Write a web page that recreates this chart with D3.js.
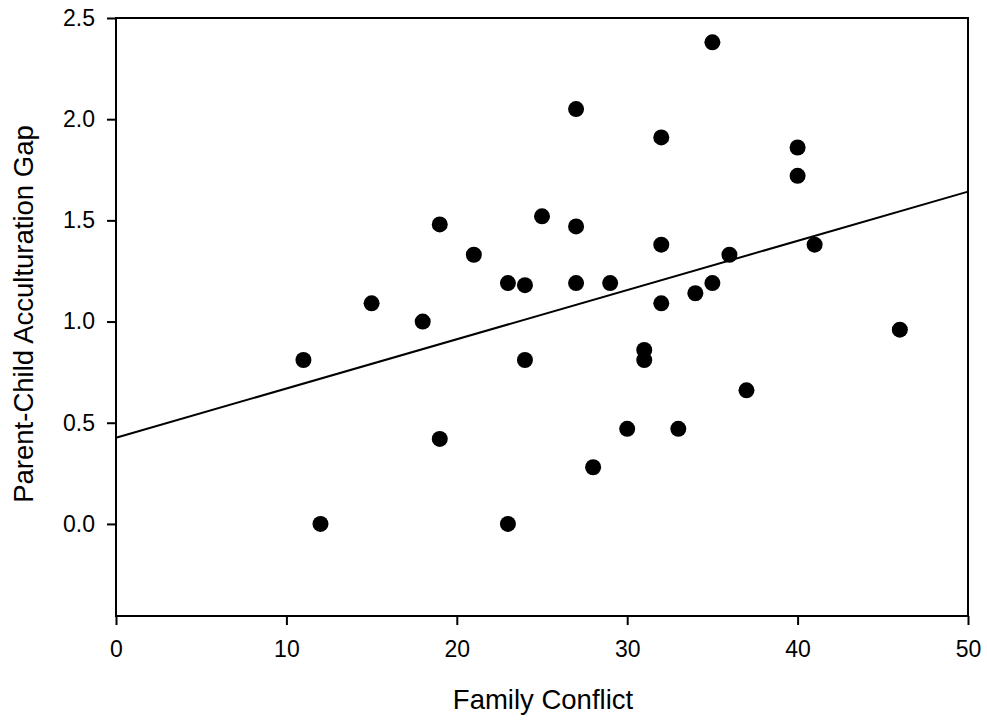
<!DOCTYPE html>
<html>
<head>
<meta charset="utf-8">
<script src="https://cdn.jsdelivr.net/npm/d3@7"></script>
<style>
  body { margin: 0; background: #fff; }
  text { font-family: "Liberation Sans", Arial, sans-serif; fill: #000; }
</style>
</head>
<body>
<div id="container"></div>
<script>
let width = 987;
let height = 724;

// data
let conflict = [11, 12, 15, 18, 19, 19, 21, 23, 23, 24, 24, 25, 27, 27, 27, 28, 29, 30, 31, 31,
  32, 32, 32, 33, 34, 35, 35, 36, 37, 40, 40, 41, 46];
let gap = [0.81, 0.00, 1.09, 1.00, 1.48, 0.42, 1.33, 1.19, 0.00, 1.18, 0.81, 1.52, 2.05, 1.47, 1.19, 0.28, 1.19, 0.47, 0.86, 0.81,
  1.91, 1.38, 1.09, 0.47, 1.14, 2.38, 1.19, 1.33, 0.66, 1.86, 1.72, 1.38, 0.96];
let fitX = [0, 50];
let fitY = [0.426, 1.642];
let xTicks = [0, 10, 20, 30, 40, 50];
let yTicks = [0.0, 0.5, 1.0, 1.5, 2.0, 2.5];

let plotLeft = 116, plotRight = 968, plotTop = 18, plotBottom = 616;

let svg = d3.select("#container")
  .append("svg")
  .attr("width", width)
  .attr("height", height);

let x = d3.scaleLinear().domain([0, 50]).range([plotLeft, plotRight]);
let y = d3.scaleLinear().domain([-0.455, 2.5]).range([plotBottom, plotTop]);

// frame
svg.append("rect")
  .attr("x", plotLeft).attr("y", plotTop)
  .attr("width", plotRight - plotLeft).attr("height", plotBottom - plotTop)
  .attr("fill", "none").attr("stroke", "#000").attr("stroke-width", 2);

let xAxis = svg.append("g")
  .attr("transform", `translate(0,${plotBottom})`)
  .call(d3.axisBottom(x).tickValues(xTicks).tickFormat(d3.format("d")).tickSize(9).tickPadding(16));

let yAxis = svg.append("g")
  .attr("transform", `translate(${plotLeft},0)`)
  .call(d3.axisLeft(y).tickValues(yTicks).tickFormat(d3.format(".1f")).tickSize(9).tickPadding(12));

[xAxis, yAxis].forEach(function (a) {
  a.select(".domain").remove();
  a.selectAll("line").attr("stroke", "#000").attr("stroke-width", 2);
  a.selectAll("text")
    .style("font-family", '"Liberation Sans", Arial, sans-serif')
    .style("font-size", "23px")
    .attr("fill", "#000");
});

// regression line
svg.append("line")
  .attr("x1", x(fitX[0])).attr("y1", y(fitY[0]))
  .attr("x2", x(fitX[1])).attr("y2", y(fitY[1]))
  .attr("stroke", "#000").attr("stroke-width", 2);

svg.selectAll("circle.pt")
  .data(conflict.map(function (c, i) { return [c, gap[i]]; }))
  .enter().append("circle")
  .attr("class", "pt")
  .attr("cx", function (d) { return x(d[0]); })
  .attr("cy", function (d) { return y(d[1]); })
  .attr("r", 8)
  .attr("fill", "#000");

svg.append("text")
  .attr("x", (plotLeft + plotRight) / 2 + 1)
  .attr("y", 709)
  .attr("text-anchor", "middle")
  .style("font-size", "27.5px")
  .text("Family Conflict");

svg.append("text")
  .attr("transform", `translate(33,${(125 + 503) / 2}) rotate(-90)`)
  .attr("text-anchor", "middle")
  .style("font-size", "27.5px")
  .text("Parent-Child Acculturation Gap");
</script>
</body>
</html>
